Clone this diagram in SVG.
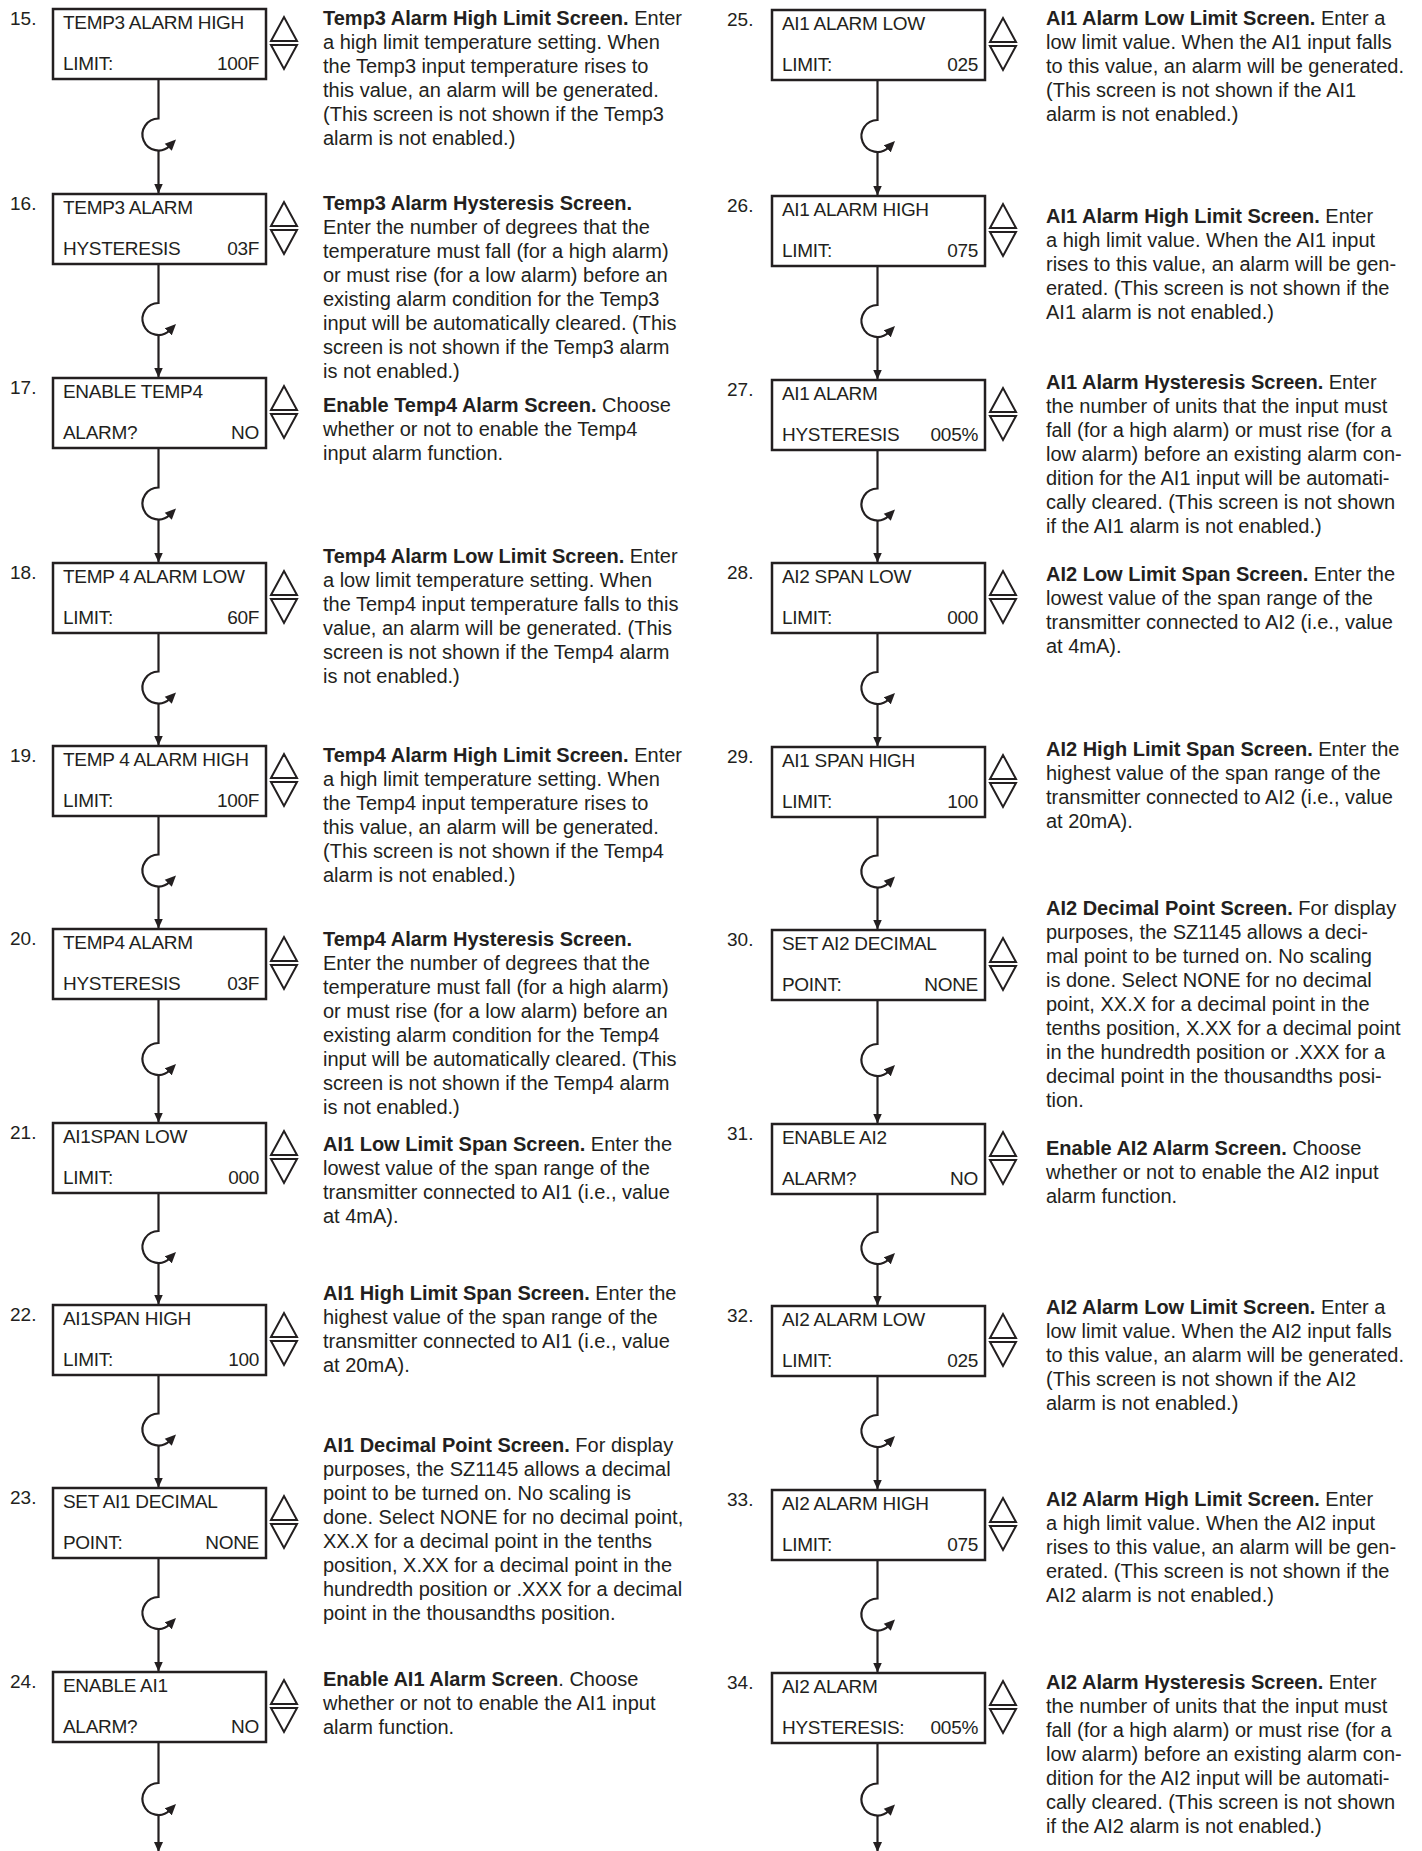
<svg xmlns="http://www.w3.org/2000/svg" width="1422" height="1851" viewBox="0 0 1422 1851">
<style>
.bg{fill:#fff}
.box{fill:#fff;stroke:#231f20;stroke-width:2.5}
.lcd{font-family:"Liberation Sans",Arial,sans-serif;font-size:19px;fill:#231f20;letter-spacing:-0.3px}
.val{text-anchor:end}
.num{font-family:"Liberation Sans",Arial,sans-serif;font-size:19px;fill:#231f20}
.desc{font-family:"Liberation Sans",Arial,sans-serif;font-size:20px;fill:#231f20}
.b{font-weight:bold}
.ud{fill:none;stroke:#231f20;stroke-width:2}
.con{fill:none;stroke:#231f20;stroke-width:2.2}
.arr{marker-end:url(#ah)}
.loop{marker-end:url(#lh)}
</style>
<defs>
<marker id="ah" viewBox="0 0 10 10" refX="10" refY="5" markerWidth="10" markerHeight="10" markerUnits="userSpaceOnUse" orient="auto">
<path d="M0,0.5 L10,5 L0,9.5 Z" fill="#231f20"/>
</marker>
<marker id="lh" viewBox="0 0 10 10" refX="2" refY="5" markerWidth="11" markerHeight="11" markerUnits="userSpaceOnUse" orient="auto">
<path d="M0,0.5 L10,5 L0,9.5 Z" fill="#231f20"/>
</marker>
<g id="ud"><path class="ud" d="M-13,32 L0,8 L13,32 Z M-13,36 L0,60 L13,36 Z"/></g>
</defs>
<rect class="bg" x="0" y="0" width="1422" height="1851"/>

<g id="connectors">
<path class="con loop" d="M158.5,79 V118.5 A16,16 0 1 0 169.8,145.8"/><path class="con arr" d="M158.5,150.5 V193.5"/>
<path class="con loop" d="M158.5,264 V303 A16,16 0 1 0 169.8,330.3"/><path class="con arr" d="M158.5,335 V377.5"/>
<path class="con loop" d="M158.5,448 V487.5 A16,16 0 1 0 169.8,514.8"/><path class="con arr" d="M158.5,519.5 V562.5"/>
<path class="con loop" d="M158.5,633 V671.5 A16,16 0 1 0 169.8,698.8"/><path class="con arr" d="M158.5,703.5 V745.5"/>
<path class="con loop" d="M158.5,816 V854.5 A16,16 0 1 0 169.8,881.8"/><path class="con arr" d="M158.5,886.5 V928.5"/>
<path class="con loop" d="M158.5,999 V1043 A16,16 0 1 0 169.8,1070.3"/><path class="con arr" d="M158.5,1075 V1122.5"/>
<path class="con loop" d="M158.5,1193 V1231 A16,16 0 1 0 169.8,1258.3"/><path class="con arr" d="M158.5,1263 V1304.5"/>
<path class="con loop" d="M158.5,1375 V1413.5 A16,16 0 1 0 169.8,1440.8"/><path class="con arr" d="M158.5,1445.5 V1487.5"/>
<path class="con loop" d="M158.5,1558 V1597 A16,16 0 1 0 169.8,1624.3"/><path class="con arr" d="M158.5,1629 V1671.5"/>
<path class="con loop" d="M158.5,1742 V1783 A16,16 0 1 0 169.8,1810.3"/><path class="con arr" d="M158.5,1815 V1852"/>

<path class="con loop" d="M877.5,80 V120 A16,16 0 1 0 888.8,147.3"/><path class="con arr" d="M877.5,152 V195.5"/>
<path class="con loop" d="M877.5,266 V305 A16,16 0 1 0 888.8,332.3"/><path class="con arr" d="M877.5,337 V379.5"/>
<path class="con loop" d="M877.5,450 V488.5 A16,16 0 1 0 888.8,515.8"/><path class="con arr" d="M877.5,520.5 V562.5"/>
<path class="con loop" d="M877.5,633 V672 A16,16 0 1 0 888.8,699.3"/><path class="con arr" d="M877.5,704 V746.5"/>
<path class="con loop" d="M877.5,817 V855.5 A16,16 0 1 0 888.8,882.8"/><path class="con arr" d="M877.5,887.5 V929.5"/>
<path class="con loop" d="M877.5,1000 V1044 A16,16 0 1 0 888.8,1071.3"/><path class="con arr" d="M877.5,1076 V1123.5"/>
<path class="con loop" d="M877.5,1194 V1232 A16,16 0 1 0 888.8,1259.3"/><path class="con arr" d="M877.5,1264 V1305.5"/>
<path class="con loop" d="M877.5,1376 V1415 A16,16 0 1 0 888.8,1442.3"/><path class="con arr" d="M877.5,1447 V1489.5"/>
<path class="con loop" d="M877.5,1560 V1598.5 A16,16 0 1 0 888.8,1625.8"/><path class="con arr" d="M877.5,1630.5 V1672.5"/>
<path class="con loop" d="M877.5,1743 V1783.5 A16,16 0 1 0 888.8,1810.8"/><path class="con arr" d="M877.5,1815.5 V1852"/>
</g>

<g id="s15">
<text class="num" x="10" y="24.5">15.</text>
<rect class="box" x="53" y="9" width="213" height="70"/>
<text class="lcd" x="63" y="29">TEMP3 ALARM HIGH</text>
<text class="lcd" x="63" y="70">LIMIT:</text><text class="lcd val" x="259" y="70">100F</text>
<use href="#ud" x="284" y="9"/>
<text class="desc" y="25"><tspan x="323"><tspan class="b">Temp3 Alarm High Limit Screen.</tspan> Enter</tspan><tspan x="323" dy="24">a high limit temperature setting. When</tspan><tspan x="323" dy="24">the Temp3 input temperature rises to</tspan><tspan x="323" dy="24">this value, an alarm will be generated.</tspan><tspan x="323" dy="24">(This screen is not shown if the Temp3</tspan><tspan x="323" dy="24">alarm is not enabled.)</tspan></text>
</g>

<g id="s16">
<text class="num" x="10" y="209.5">16.</text>
<rect class="box" x="53" y="194" width="213" height="70"/>
<text class="lcd" x="63" y="214">TEMP3 ALARM</text>
<text class="lcd" x="63" y="255">HYSTERESIS</text><text class="lcd val" x="259" y="255">03F</text>
<use href="#ud" x="284" y="194"/>
<text class="desc" y="210"><tspan x="323" class="b">Temp3 Alarm Hysteresis Screen.</tspan><tspan x="323" dy="24">Enter the number of degrees that the</tspan><tspan x="323" dy="24">temperature must fall (for a high alarm)</tspan><tspan x="323" dy="24">or must rise (for a low alarm) before an</tspan><tspan x="323" dy="24">existing alarm condition for the Temp3</tspan><tspan x="323" dy="24">input will be automatically cleared. (This</tspan><tspan x="323" dy="24">screen is not shown if the Temp3 alarm</tspan><tspan x="323" dy="24">is not enabled.)</tspan></text>
</g>

<g id="s17">
<text class="num" x="10" y="393.5">17.</text>
<rect class="box" x="53" y="378" width="213" height="70"/>
<text class="lcd" x="63" y="398">ENABLE TEMP4</text>
<text class="lcd" x="63" y="439">ALARM?</text><text class="lcd val" x="259" y="439">NO</text>
<use href="#ud" x="284" y="378"/>
<text class="desc" y="412"><tspan x="323"><tspan class="b">Enable Temp4 Alarm Screen.</tspan> Choose</tspan><tspan x="323" dy="24">whether or not to enable the Temp4</tspan><tspan x="323" dy="24">input alarm function.</tspan></text>
</g>

<g id="s18">
<text class="num" x="10" y="578.5">18.</text>
<rect class="box" x="53" y="563" width="213" height="70"/>
<text class="lcd" x="63" y="583">TEMP 4 ALARM LOW</text>
<text class="lcd" x="63" y="624">LIMIT:</text><text class="lcd val" x="259" y="624">60F</text>
<use href="#ud" x="284" y="563"/>
<text class="desc" y="563"><tspan x="323"><tspan class="b">Temp4 Alarm Low Limit Screen.</tspan> Enter</tspan><tspan x="323" dy="24">a low limit temperature setting. When</tspan><tspan x="323" dy="24">the Temp4 input temperature falls to this</tspan><tspan x="323" dy="24">value, an alarm will be generated. (This</tspan><tspan x="323" dy="24">screen is not shown if the Temp4 alarm</tspan><tspan x="323" dy="24">is not enabled.)</tspan></text>
</g>

<g id="s19">
<text class="num" x="10" y="761.5">19.</text>
<rect class="box" x="53" y="746" width="213" height="70"/>
<text class="lcd" x="63" y="766">TEMP 4 ALARM HIGH</text>
<text class="lcd" x="63" y="807">LIMIT:</text><text class="lcd val" x="259" y="807">100F</text>
<use href="#ud" x="284" y="746"/>
<text class="desc" y="762"><tspan x="323"><tspan class="b">Temp4 Alarm High Limit Screen.</tspan> Enter</tspan><tspan x="323" dy="24">a high limit temperature setting. When</tspan><tspan x="323" dy="24">the Temp4 input temperature rises to</tspan><tspan x="323" dy="24">this value, an alarm will be generated.</tspan><tspan x="323" dy="24">(This screen is not shown if the Temp4</tspan><tspan x="323" dy="24">alarm is not enabled.)</tspan></text>
</g>

<g id="s20">
<text class="num" x="10" y="944.5">20.</text>
<rect class="box" x="53" y="929" width="213" height="70"/>
<text class="lcd" x="63" y="949">TEMP4 ALARM</text>
<text class="lcd" x="63" y="990">HYSTERESIS</text><text class="lcd val" x="259" y="990">03F</text>
<use href="#ud" x="284" y="929"/>
<text class="desc" y="946"><tspan x="323" class="b">Temp4 Alarm Hysteresis Screen.</tspan><tspan x="323" dy="24">Enter the number of degrees that the</tspan><tspan x="323" dy="24">temperature must fall (for a high alarm)</tspan><tspan x="323" dy="24">or must rise (for a low alarm) before an</tspan><tspan x="323" dy="24">existing alarm condition for the Temp4</tspan><tspan x="323" dy="24">input will be automatically cleared. (This</tspan><tspan x="323" dy="24">screen is not shown if the Temp4 alarm</tspan><tspan x="323" dy="24">is not enabled.)</tspan></text>
</g>

<g id="s21">
<text class="num" x="10" y="1138.5">21.</text>
<rect class="box" x="53" y="1123" width="213" height="70"/>
<text class="lcd" x="63" y="1143">AI1SPAN LOW</text>
<text class="lcd" x="63" y="1184">LIMIT:</text><text class="lcd val" x="259" y="1184">000</text>
<use href="#ud" x="284" y="1123"/>
<text class="desc" y="1151"><tspan x="323"><tspan class="b">AI1 Low Limit Span Screen.</tspan> Enter the</tspan><tspan x="323" dy="24">lowest value of the span range of the</tspan><tspan x="323" dy="24">transmitter connected to AI1 (i.e., value</tspan><tspan x="323" dy="24">at 4mA).</tspan></text>
</g>

<g id="s22">
<text class="num" x="10" y="1320.5">22.</text>
<rect class="box" x="53" y="1305" width="213" height="70"/>
<text class="lcd" x="63" y="1325">AI1SPAN HIGH</text>
<text class="lcd" x="63" y="1366">LIMIT:</text><text class="lcd val" x="259" y="1366">100</text>
<use href="#ud" x="284" y="1305"/>
<text class="desc" y="1300"><tspan x="323"><tspan class="b">AI1 High Limit Span Screen.</tspan> Enter the</tspan><tspan x="323" dy="24">highest value of the span range of the</tspan><tspan x="323" dy="24">transmitter connected to AI1 (i.e., value</tspan><tspan x="323" dy="24">at 20mA).</tspan></text>
</g>

<g id="s23">
<text class="num" x="10" y="1503.5">23.</text>
<rect class="box" x="53" y="1488" width="213" height="70"/>
<text class="lcd" x="63" y="1508">SET AI1 DECIMAL</text>
<text class="lcd" x="63" y="1549">POINT:</text><text class="lcd val" x="259" y="1549">NONE</text>
<use href="#ud" x="284" y="1488"/>
<text class="desc" y="1452"><tspan x="323"><tspan class="b">AI1 Decimal Point Screen.</tspan> For display</tspan><tspan x="323" dy="24">purposes, the SZ1145 allows a decimal</tspan><tspan x="323" dy="24">point to be turned on. No scaling is</tspan><tspan x="323" dy="24">done. Select NONE for no decimal point,</tspan><tspan x="323" dy="24">XX.X for a decimal point in the tenths</tspan><tspan x="323" dy="24">position, X.XX for a decimal point in the</tspan><tspan x="323" dy="24">hundredth position or .XXX for a decimal</tspan><tspan x="323" dy="24">point in the thousandths position.</tspan></text>
</g>

<g id="s24">
<text class="num" x="10" y="1687.5">24.</text>
<rect class="box" x="53" y="1672" width="213" height="70"/>
<text class="lcd" x="63" y="1692">ENABLE AI1</text>
<text class="lcd" x="63" y="1733">ALARM?</text><text class="lcd val" x="259" y="1733">NO</text>
<use href="#ud" x="284" y="1672"/>
<text class="desc" y="1686"><tspan x="323"><tspan class="b">Enable AI1 Alarm Screen</tspan>. Choose</tspan><tspan x="323" dy="24">whether or not to enable the AI1 input</tspan><tspan x="323" dy="24">alarm function.</tspan></text>
</g>

<g id="s25">
<text class="num" x="727" y="25.5">25.</text>
<rect class="box" x="772" y="10" width="213" height="70"/>
<text class="lcd" x="782" y="30">AI1 ALARM LOW</text>
<text class="lcd" x="782" y="71">LIMIT:</text><text class="lcd val" x="978" y="71">025</text>
<use href="#ud" x="1003" y="10"/>
<text class="desc" y="25"><tspan x="1046"><tspan class="b">AI1 Alarm Low Limit Screen.</tspan> Enter a</tspan><tspan x="1046" dy="24">low limit value. When the AI1 input falls</tspan><tspan x="1046" dy="24">to this value, an alarm will be generated.</tspan><tspan x="1046" dy="24">(This screen is not shown if the AI1</tspan><tspan x="1046" dy="24">alarm is not enabled.)</tspan></text>
</g>

<g id="s26">
<text class="num" x="727" y="211.5">26.</text>
<rect class="box" x="772" y="196" width="213" height="70"/>
<text class="lcd" x="782" y="216">AI1 ALARM HIGH</text>
<text class="lcd" x="782" y="257">LIMIT:</text><text class="lcd val" x="978" y="257">075</text>
<use href="#ud" x="1003" y="196"/>
<text class="desc" y="223"><tspan x="1046"><tspan class="b">AI1 Alarm High Limit Screen.</tspan> Enter</tspan><tspan x="1046" dy="24">a high limit value. When the AI1 input</tspan><tspan x="1046" dy="24">rises to this value, an alarm will be gen-</tspan><tspan x="1046" dy="24">erated. (This screen is not shown if the</tspan><tspan x="1046" dy="24">AI1 alarm is not enabled.)</tspan></text>
</g>

<g id="s27">
<text class="num" x="727" y="395.5">27.</text>
<rect class="box" x="772" y="380" width="213" height="70"/>
<text class="lcd" x="782" y="400">AI1 ALARM</text>
<text class="lcd" x="782" y="441">HYSTERESIS</text><text class="lcd val" x="978" y="441">005%</text>
<use href="#ud" x="1003" y="380"/>
<text class="desc" y="389"><tspan x="1046"><tspan class="b">AI1 Alarm Hysteresis Screen.</tspan> Enter</tspan><tspan x="1046" dy="24">the number of units that the input must</tspan><tspan x="1046" dy="24">fall (for a high alarm) or must rise (for a</tspan><tspan x="1046" dy="24">low alarm) before an existing alarm con-</tspan><tspan x="1046" dy="24">dition for the AI1 input will be automati-</tspan><tspan x="1046" dy="24">cally cleared. (This screen is not shown</tspan><tspan x="1046" dy="24">if the AI1 alarm is not enabled.)</tspan></text>
</g>

<g id="s28">
<text class="num" x="727" y="578.5">28.</text>
<rect class="box" x="772" y="563" width="213" height="70"/>
<text class="lcd" x="782" y="583">AI2 SPAN LOW</text>
<text class="lcd" x="782" y="624">LIMIT:</text><text class="lcd val" x="978" y="624">000</text>
<use href="#ud" x="1003" y="563"/>
<text class="desc" y="581"><tspan x="1046"><tspan class="b">AI2 Low Limit Span Screen.</tspan> Enter the</tspan><tspan x="1046" dy="24">lowest value of the span range of the</tspan><tspan x="1046" dy="24">transmitter connected to AI2 (i.e., value</tspan><tspan x="1046" dy="24">at 4mA).</tspan></text>
</g>

<g id="s29">
<text class="num" x="727" y="762.5">29.</text>
<rect class="box" x="772" y="747" width="213" height="70"/>
<text class="lcd" x="782" y="767">AI1 SPAN HIGH</text>
<text class="lcd" x="782" y="808">LIMIT:</text><text class="lcd val" x="978" y="808">100</text>
<use href="#ud" x="1003" y="747"/>
<text class="desc" y="756"><tspan x="1046"><tspan class="b">AI2 High Limit Span Screen.</tspan> Enter the</tspan><tspan x="1046" dy="24">highest value of the span range of the</tspan><tspan x="1046" dy="24">transmitter connected to AI2 (i.e., value</tspan><tspan x="1046" dy="24">at 20mA).</tspan></text>
</g>

<g id="s30">
<text class="num" x="727" y="945.5">30.</text>
<rect class="box" x="772" y="930" width="213" height="70"/>
<text class="lcd" x="782" y="950">SET AI2 DECIMAL</text>
<text class="lcd" x="782" y="991">POINT:</text><text class="lcd val" x="978" y="991">NONE</text>
<use href="#ud" x="1003" y="930"/>
<text class="desc" y="915"><tspan x="1046"><tspan class="b">AI2 Decimal Point Screen.</tspan> For display</tspan><tspan x="1046" dy="24">purposes, the SZ1145 allows a deci-</tspan><tspan x="1046" dy="24">mal point to be turned on. No scaling</tspan><tspan x="1046" dy="24">is done. Select NONE for no decimal</tspan><tspan x="1046" dy="24">point, XX.X for a decimal point in the</tspan><tspan x="1046" dy="24">tenths position, X.XX for a decimal point</tspan><tspan x="1046" dy="24">in the hundredth position or .XXX for a</tspan><tspan x="1046" dy="24">decimal point in the thousandths posi-</tspan><tspan x="1046" dy="24">tion.</tspan></text>
</g>

<g id="s31">
<text class="num" x="727" y="1139.5">31.</text>
<rect class="box" x="772" y="1124" width="213" height="70"/>
<text class="lcd" x="782" y="1144">ENABLE AI2</text>
<text class="lcd" x="782" y="1185">ALARM?</text><text class="lcd val" x="978" y="1185">NO</text>
<use href="#ud" x="1003" y="1124"/>
<text class="desc" y="1155"><tspan x="1046"><tspan class="b">Enable AI2 Alarm Screen.</tspan> Choose</tspan><tspan x="1046" dy="24">whether or not to enable the AI2 input</tspan><tspan x="1046" dy="24">alarm function.</tspan></text>
</g>

<g id="s32">
<text class="num" x="727" y="1321.5">32.</text>
<rect class="box" x="772" y="1306" width="213" height="70"/>
<text class="lcd" x="782" y="1326">AI2 ALARM LOW</text>
<text class="lcd" x="782" y="1367">LIMIT:</text><text class="lcd val" x="978" y="1367">025</text>
<use href="#ud" x="1003" y="1306"/>
<text class="desc" y="1314"><tspan x="1046"><tspan class="b">AI2 Alarm Low Limit Screen.</tspan> Enter a</tspan><tspan x="1046" dy="24">low limit value. When the AI2 input falls</tspan><tspan x="1046" dy="24">to this value, an alarm will be generated.</tspan><tspan x="1046" dy="24">(This screen is not shown if the AI2</tspan><tspan x="1046" dy="24">alarm is not enabled.)</tspan></text>
</g>

<g id="s33">
<text class="num" x="727" y="1505.5">33.</text>
<rect class="box" x="772" y="1490" width="213" height="70"/>
<text class="lcd" x="782" y="1510">AI2 ALARM HIGH</text>
<text class="lcd" x="782" y="1551">LIMIT:</text><text class="lcd val" x="978" y="1551">075</text>
<use href="#ud" x="1003" y="1490"/>
<text class="desc" y="1506"><tspan x="1046"><tspan class="b">AI2 Alarm High Limit Screen.</tspan> Enter</tspan><tspan x="1046" dy="24">a high limit value. When the AI2 input</tspan><tspan x="1046" dy="24">rises to this value, an alarm will be gen-</tspan><tspan x="1046" dy="24">erated. (This screen is not shown if the</tspan><tspan x="1046" dy="24">AI2 alarm is not enabled.)</tspan></text>
</g>

<g id="s34">
<text class="num" x="727" y="1688.5">34.</text>
<rect class="box" x="772" y="1673" width="213" height="70"/>
<text class="lcd" x="782" y="1693">AI2 ALARM</text>
<text class="lcd" x="782" y="1734">HYSTERESIS:</text><text class="lcd val" x="978" y="1734">005%</text>
<use href="#ud" x="1003" y="1673"/>
<text class="desc" y="1689"><tspan x="1046"><tspan class="b">AI2 Alarm Hysteresis Screen.</tspan> Enter</tspan><tspan x="1046" dy="24">the number of units that the input must</tspan><tspan x="1046" dy="24">fall (for a high alarm) or must rise (for a</tspan><tspan x="1046" dy="24">low alarm) before an existing alarm con-</tspan><tspan x="1046" dy="24">dition for the AI2 input will be automati-</tspan><tspan x="1046" dy="24">cally cleared. (This screen is not shown</tspan><tspan x="1046" dy="24">if the AI2 alarm is not enabled.)</tspan></text>
</g>
</svg>
